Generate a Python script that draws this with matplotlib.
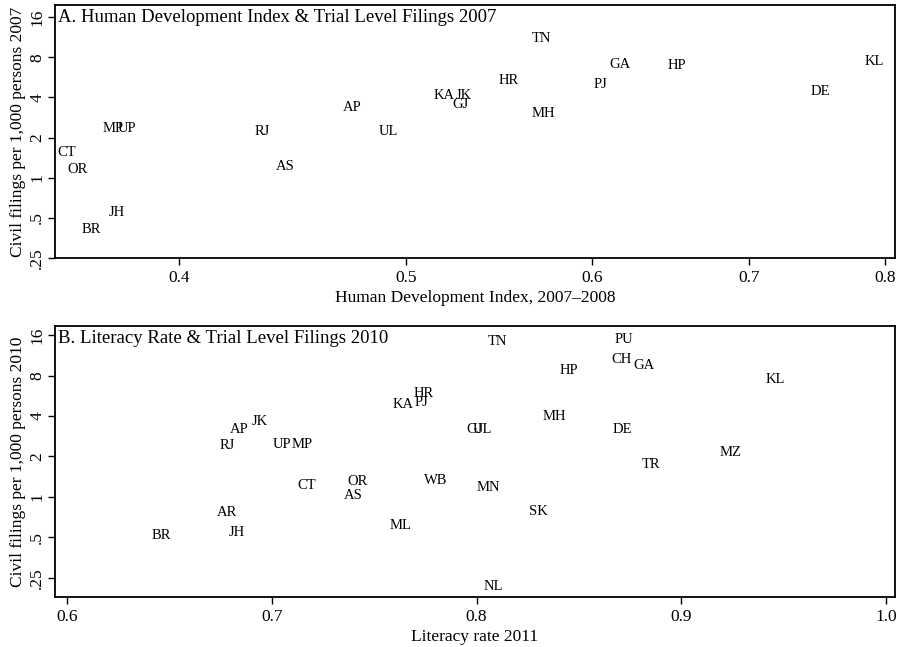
import matplotlib
matplotlib.use("Agg")
import matplotlib.pyplot as plt
from matplotlib.ticker import FixedLocator, NullLocator, FixedFormatter

plt.rcParams['font.family'] = ['Liberation Serif', 'DejaVu Serif']

# Panel A data
states_a = ["CT", "OR", "MP", "UP", "JH", "BR", "RJ", "AS", "AP", "UL", "KA", "JK", "GJ",
            "TN", "HR", "MH", "GA", "PJ", "HP", "DE", "KL"]
hdi_a = [0.358, 0.362, 0.375, 0.380, 0.376, 0.367, 0.434, 0.444, 0.474, 0.491, 0.519, 0.529, 0.527,
         0.571, 0.553, 0.572, 0.617, 0.605, 0.652, 0.751, 0.792]
filings_a = [1.54, 1.15, 2.33, 2.33, 0.547, 0.408, 2.21, 1.21, 3.34, 2.21, 4.11, 4.11, 3.52,
             10.99, 5.33, 3.01, 7.02, 4.97, 6.90, 4.41, 7.39]

# Panel B data
states_b = ["BR", "AR", "JH", "RJ", "AP", "JK", "UP", "MP", "CT", "OR", "AS", "ML", "KA", "HR",
            "PJ", "WB", "TN", "PU", "CH", "GA", "HP", "KL", "MH", "GJ", "UL", "DE", "MZ", "TR",
            "MN", "SK", "NL"]
lit_b = [0.646, 0.678, 0.683, 0.678, 0.684, 0.694, 0.705, 0.715, 0.717, 0.742, 0.740, 0.763, 0.764, 0.774,
         0.773, 0.780, 0.810, 0.872, 0.871, 0.882, 0.845, 0.946, 0.838, 0.799, 0.803, 0.871, 0.924, 0.885,
         0.806, 0.830, 0.808]
filings_b = [0.518, 0.771, 0.545, 2.42, 3.19, 3.67, 2.46, 2.46, 1.21, 1.30, 1.02, 0.616, 4.84, 5.86,
             5.01, 1.32, 14.4, 14.9, 10.56, 9.51, 8.72, 7.46, 4.0, 3.19, 3.19, 3.19, 2.14, 1.74,
             1.17, 0.785, 0.214]

yticks = [0.25, 0.5, 1, 2, 4, 8, 16]
ytick_labels = [".25", ".5", "1", "2", "4", "8", "16"]

fig = plt.figure(figsize=(8.97, 6.47), dpi=100)
axA = fig.add_axes([55/897, 1-258/647, 840/897, 253/647])
axB = fig.add_axes([55/897, 1-597/647, 840/897, 271/647])

label_fs = 10.5
tick_fs = 12.5


def style(ax):
    ax.set_yscale('log', base=2)
    ax.yaxis.set_major_locator(FixedLocator(yticks))
    ax.yaxis.set_major_formatter(FixedFormatter(ytick_labels))
    ax.yaxis.set_minor_locator(NullLocator())
    ax.tick_params(axis='y', labelrotation=90, labelsize=tick_fs, direction='out', length=5, width=1, pad=2)
    ax.tick_params(axis='x', labelsize=tick_fs, direction='out', length=5, width=1)
    for s in ax.spines.values():
        s.set_linewidth(1.3)
        s.set_color('black')


# Panel A
axA.set_xscale('log')
style(axA)
axA.xaxis.set_major_locator(FixedLocator([0.4, 0.5, 0.6, 0.7, 0.8]))
axA.xaxis.set_major_formatter(FixedFormatter(["0.4", "0.5", "0.6", "0.7", "0.8"]))
axA.xaxis.set_minor_locator(NullLocator())
axA.set_xlim(0.354, 0.808)
axA.set_ylim(0.25, 19.7)
for s, x, y in zip(states_a, hdi_a, filings_a):
    axA.text(x, y, s, ha='center', va='center', fontsize=label_fs)
axA.text(0.004, 0.985, "A. Human Development Index & Trial Level Filings 2007",
         transform=axA.transAxes, ha='left', va='top', fontsize=13.5)
axA.set_xlabel("Human Development Index, 2007\u20132008", fontsize=12.5, labelpad=3)
axA.set_ylabel("Civil filings per 1,000 persons 2007", fontsize=12.5, labelpad=2)
for lab in axA.get_yticklabels():
    lab.set_verticalalignment('center')

# Panel B
style(axB)
axB.xaxis.set_major_locator(FixedLocator([0.6, 0.7, 0.8, 0.9, 1.0]))
axB.xaxis.set_major_formatter(FixedFormatter(["0.6", "0.7", "0.8", "0.9", "1.0"]))
axB.xaxis.set_minor_locator(NullLocator())
axB.set_xlim(0.5941, 1.0044)
axB.set_ylim(0.18, 18.7)
for s, x, y in zip(states_b, lit_b, filings_b):
    axB.text(x, y, s, ha='center', va='center', fontsize=label_fs)
axB.text(0.004, 0.985, "B. Literacy Rate & Trial Level Filings 2010",
         transform=axB.transAxes, ha='left', va='top', fontsize=13.5)
axB.set_xlabel("Literacy rate 2011", fontsize=12.5, labelpad=3)
axB.set_ylabel("Civil filings per 1,000 persons 2010", fontsize=12.5, labelpad=2)
for lab in axB.get_yticklabels():
    lab.set_verticalalignment('center')

fig.savefig("out.png", dpi=100, facecolor='white')
